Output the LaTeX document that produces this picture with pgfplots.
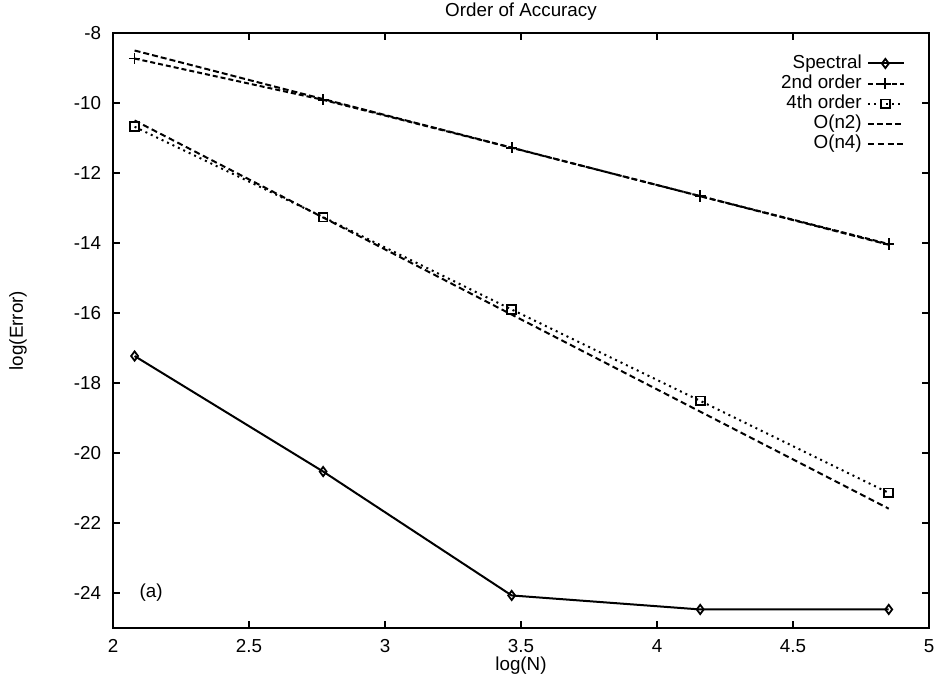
\documentclass[border=0pt]{standalone}
\usepackage{fontspec}
\setmainfont{Liberation Sans}
\usepackage{pgfplots}
\pgfplotsset{compat=1.18}

\newcommand{\lblfont}{\fontsize{9.4}{11}\selectfont}

% convergence data: log(N) against log(Error)
\pgfplotsset{
  legend image code/.code={%
    \draw[mark repeat=2,mark phase=2,#1]
      plot coordinates {(0cm,0cm) (0.3cm,0cm) (0.62cm,0cm)};},
}

\begin{document}
\begin{tikzpicture}
\begin{axis}[
  scale only axis,
  width=408pt, height=297.5pt,
  xmin=2, xmax=5, ymin=-25, ymax=-8,
  xtick={2,2.5,3,3.5,4,4.5,5},
  ytick={-24,-22,-20,-18,-16,-14,-12,-10,-8},
  xticklabels={2,2.5,3,3.5,4,4.5,5},
  yticklabels={-24,-22,-20,-18,-16,-14,-12,-10,-8},
  /pgf/number format/assume math mode=true,
  tick align=inside,
  major tick length=3.5pt,
  tick style={line width=1pt, black},
  axis line style={line width=1.1pt},
  ticklabel style={font=\lblfont},
  yticklabel style={xshift=-2.4pt},
  xticklabel style={yshift=-2.4pt},
  title={Order of Accuracy},
  title style={font=\lblfont, at={(axis description cs:0.5,1)}, anchor=center, yshift=4.5pt},
  xlabel={log(N)},
  xlabel style={font=\lblfont, at={(axis description cs:0.5,0)}, anchor=center, yshift=-19pt},
  ylabel={log(Error)},
  ylabel style={font=\lblfont, at={(axis description cs:0,0.5)}, anchor=center, yshift=47.5pt},
  legend plot pos=right,
  legend cell align=right,
  legend style={draw=none, fill=none, font=\lblfont,
    at={(axis description cs:1,1)}, anchor=north east,
    xshift=-12pt, yshift=-10pt, inner sep=0pt, row sep=0pt, column sep=2pt,
    nodes={inner sep=0.8pt, text height=6.6pt, text depth=1.9pt}},
]
% Spectral
\addplot[black, line width=1pt, mark=diamond, mark size=2.3pt,
  mark options={solid, fill=white, line width=0.9pt}]
  coordinates {(2.0794,-17.23) (2.7726,-20.53) (3.4657,-24.07) (4.1589,-24.47) (4.8520,-24.47)};
\addlegendentry{Spectral}
% 2nd order
\addplot[black, line width=1pt, dash pattern=on 2.5pt off 1.5pt, mark=+, mark size=2.8pt,
  mark options={solid, line width=0.9pt}]
  coordinates {(2.0794,-8.73) (2.7726,-9.91) (3.4657,-11.28) (4.1589,-12.66) (4.8520,-14.03)};
\addlegendentry{2nd order}
% 4th order
\addplot[black, line width=1pt, dash pattern=on 1pt off 2pt, mark=square, mark size=2.2pt,
  mark options={solid, fill=white, line width=0.9pt}]
  coordinates {(2.0794,-10.68) (2.7726,-13.26) (3.4657,-15.90) (4.1589,-18.51) (4.8520,-21.14)};
\addlegendentry{4th order}
% reference slopes
\addplot[black, line width=1pt, dash pattern=on 3pt off 1.5pt]
  coordinates {(2.0794,-8.50) (4.8520,-14.05)};
\addlegendentry{O(n2)}
\addplot[black, line width=1pt, dash pattern=on 3pt off 1.8pt]
  coordinates {(2.0794,-10.50) (4.8520,-21.59)};
\addlegendentry{O(n4)}
\node[font=\lblfont] at (axis cs:2.14,-24) {(a)};
\end{axis}
\pgfresetboundingbox
\useasboundingbox (-56.5pt,-26.5pt) rectangle (410.5pt,314pt);
\end{tikzpicture}
\end{document}
